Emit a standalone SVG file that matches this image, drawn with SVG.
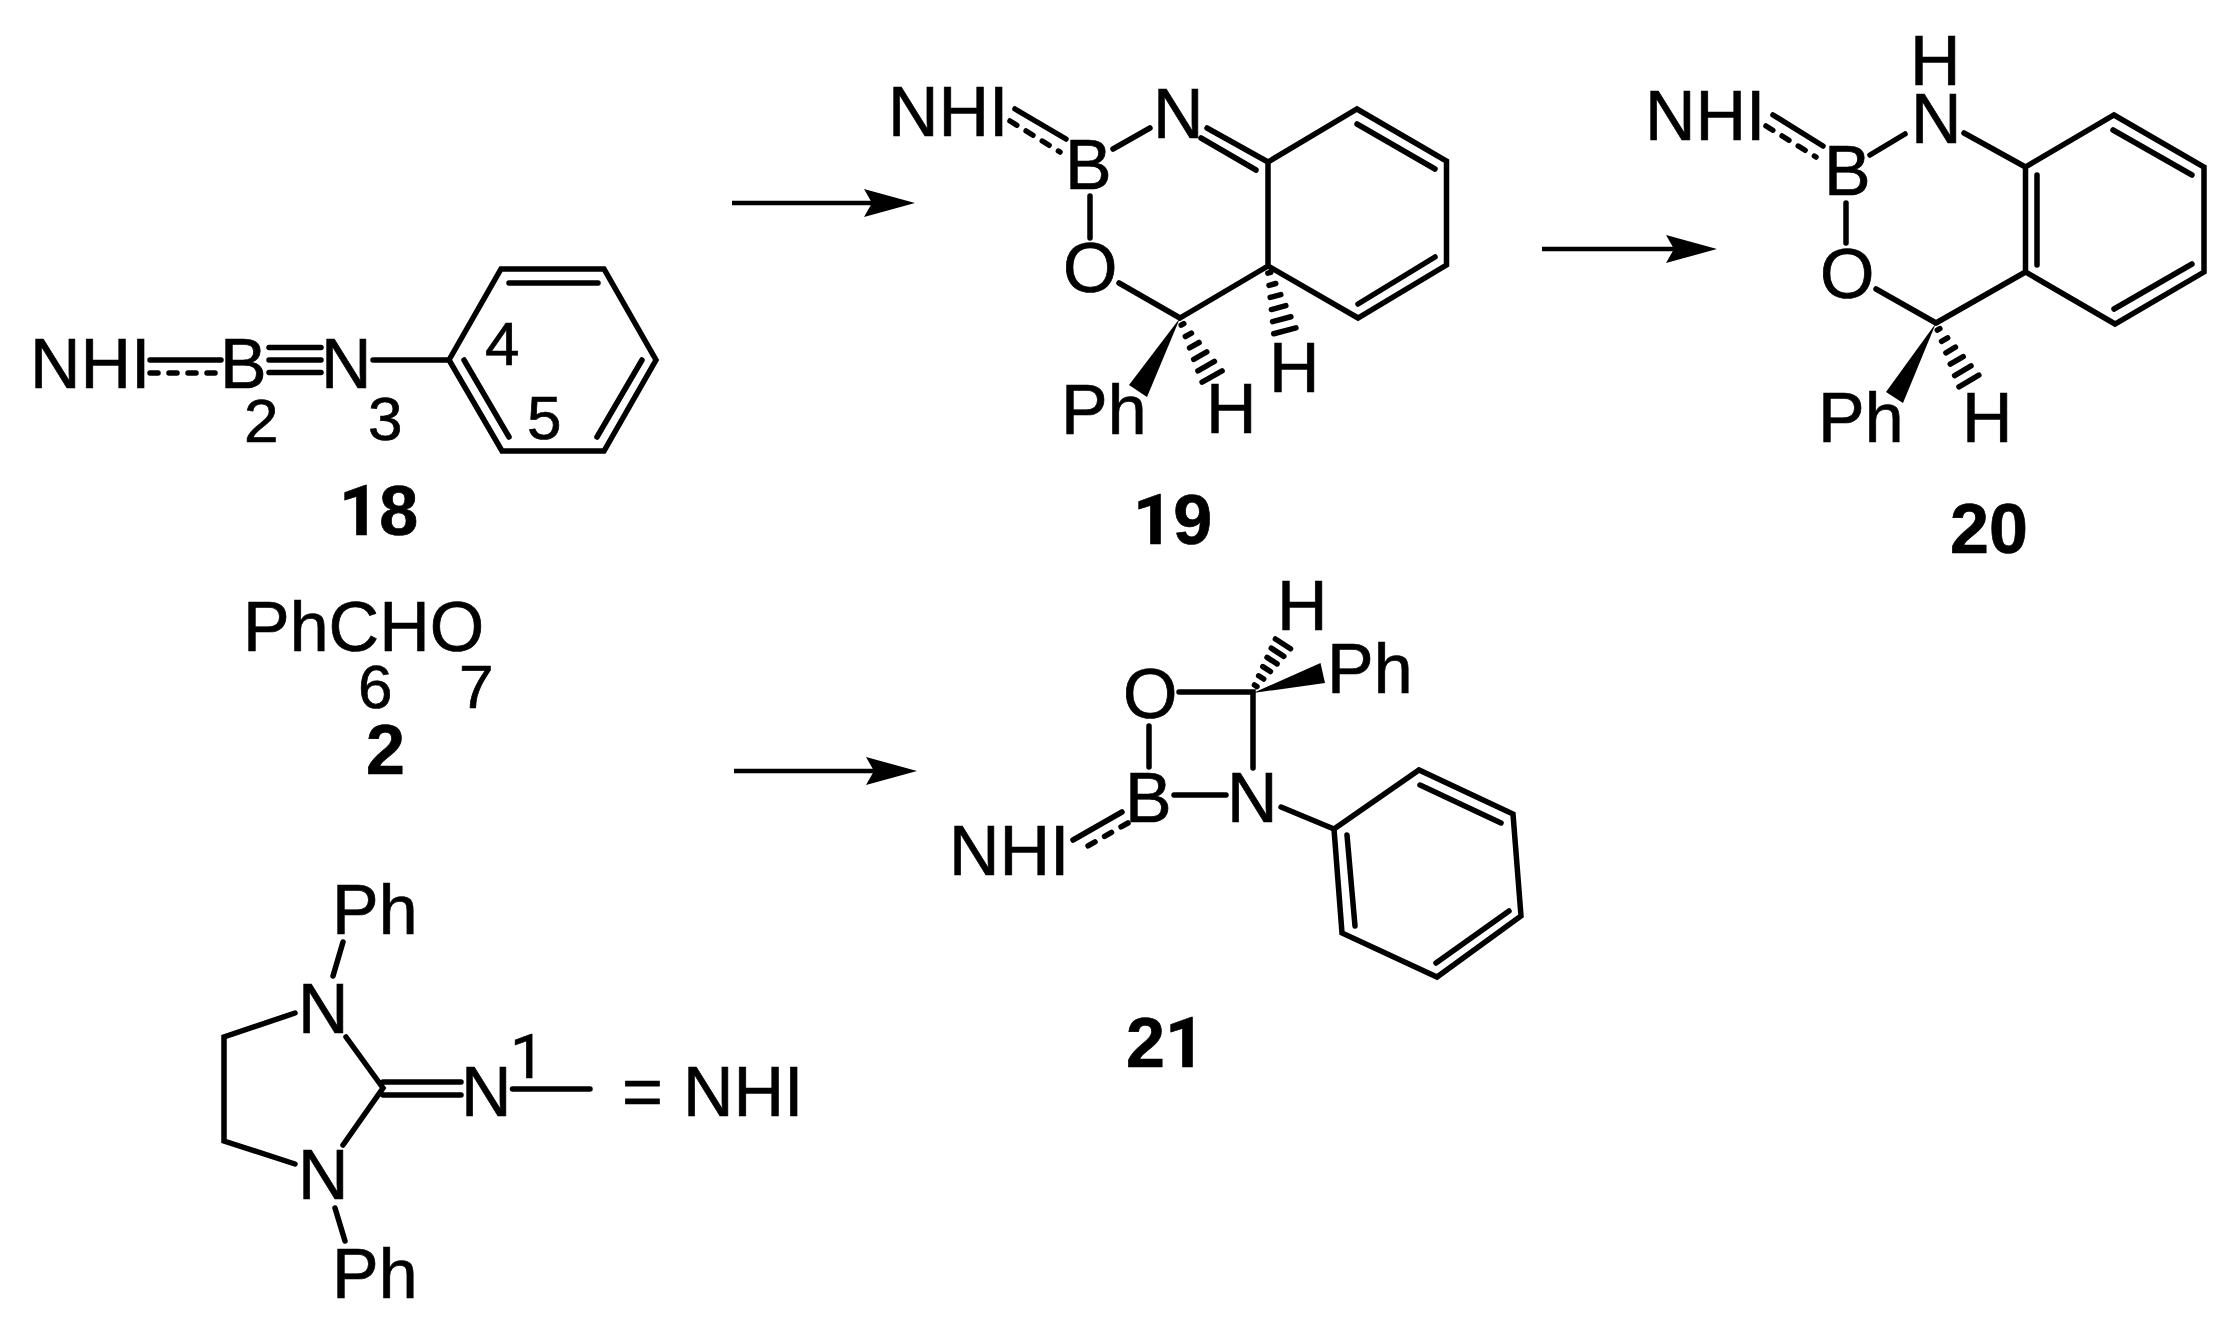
<svg xmlns="http://www.w3.org/2000/svg" xmlns:xlink="http://www.w3.org/1999/xlink" width="2237" height="1335" viewBox="0 0 2237 1335">
<style>
text{font-family:"Liberation Sans",Arial,sans-serif;fill:#000;stroke:#000;stroke-width:.7px}
.a{font-size:70px}
.n{font-size:62px}
.b{font-size:70px;font-weight:700}
.r{font-family:Roboto,"Liberation Sans",sans-serif}
.s{fill:none;stroke:#000;stroke-width:5.500;stroke-linecap:round;stroke-linejoin:miter}
.d{fill:none;stroke:#000;stroke-width:5.500;stroke-linecap:round;stroke-dasharray:8 11}
.f{fill:#000;stroke:none}
.ar{fill:none;stroke:#000;stroke-width:4.500;marker-end:url(#head)}
</style>
<defs>
<marker id="head" markerUnits="userSpaceOnUse" markerWidth="54" markerHeight="32" refX="8" refY="14" orient="auto" overflow="visible"><path d="M0 0L51 14L0 28L8 14Z" fill="#000"/></marker>
<path id="hash" class="s" d="M5-1.500V1.500M17-3.500V3.500M29-5.500V5.500M41-7.500V7.500M53-9.500V9.500M65-11.500V11.500"/>
<path id="hash-short" class="s" d="M5-1.500V1.500M15-3V3M25-4.500V4.500M35-6V6M45-7.500V7.500M55-9V9"/>
</defs>
<rect width="2237" height="1335" fill="#fff"/>
<g id="compound-18">
<text class="a" x="30" y="388">NHI</text>
<text class="a" x="220" y="388">B</text>
<text class="a" x="321" y="388">N</text>
<path class="s" d="M150 360H221M269 347.500H321M269 360H321M269 372.500H321M373 360H449"/>
<path class="d" d="M150 373H221"/>
<path class="s" d="M449 360L501 269H604L656 360L604 451H502ZM509 283H598M464 360L509 437M642 360L597 437"/>
<text class="n" x="244" y="442">2</text>
<text class="n" x="368" y="440">3</text>
<text class="n" x="485" y="365">4</text>
<text class="n" x="527" y="439">5</text>
<text class="b" x="339" y="535"><tspan class="r">1</tspan>8</text>
</g>
<g id="compound-2">
<text class="a" x="243" y="651">PhCHO</text>
<text class="n" x="358" y="708">6</text>
<text class="n" x="459" y="708">7</text>
<text class="b" x="366" y="774">2</text>
</g>
<g id="compound-19">
<text class="a" x="888" y="136">NHI</text>
<text class="a" x="1065" y="189">B</text>
<text class="a" x="1153" y="138">N</text>
<text class="a" x="1063" y="292">O</text>
<text class="a" x="1061" y="434">Ph</text>
<text class="a" x="1206" y="433">H</text>
<text class="a" x="1269" y="392">H</text>
<path class="s" d="M1015 109L1066 139M1113 149L1150 128M1207 128L1268 162M1201 138L1256 170"/>
<path class="d" d="M1010 121L1060 152"/>
<path class="s" d="M1268 162L1357 109L1446.500 161V265L1358 318L1268 266ZM1357 124L1435 169M1435 257L1358 304M1268 266L1180 318M1090 196V238M1119 283L1180 318"/>
<path class="f" d="M1180 318L1129 385L1147 397Z"/>
<use href="#hash" xlink:href="#hash" transform="translate(1180 320) rotate(60.400)"/>
<use href="#hash" xlink:href="#hash" transform="translate(1268 268) rotate(75)"/>
<text class="b" x="1133" y="544"><tspan class="r">1</tspan>9</text>
</g>
<g id="compound-20">
<text class="a" x="1645" y="140">NHI</text>
<text class="a" x="1910" y="85">H</text>
<text class="a" x="1911" y="143">N</text>
<text class="a" x="1824" y="195">B</text>
<text class="a" x="1820" y="298">O</text>
<text class="a" x="1818" y="442">Ph</text>
<text class="a" x="1962" y="442">H</text>
<path class="s" d="M1773 115L1823 146M1870 155L1905 134M1964 133L2025.500 167"/>
<path class="d" d="M1766 126L1816 157"/>
<path class="s" d="M2025.500 167L2114 115L2204 167V272L2115 324L2025.500 272ZM2113 130L2192 175M2192 264L2114 309M2037 175V265M2025.500 272L1936 323M1846 203V243M1876 289L1936 323"/>
<path class="f" d="M1936 323L1886 392L1903 403Z"/>
<use href="#hash" xlink:href="#hash" transform="translate(1936 325) rotate(59.600)"/>
<text class="b" x="1950" y="553">20</text>
</g>
<g id="compound-21">
<text class="a" x="1277" y="630">H</text>
<text class="a" x="1327" y="693">Ph</text>
<text class="a" x="1123" y="718">O</text>
<text class="a" x="1125" y="822">B</text>
<text class="a" x="1227" y="822">N</text>
<text class="a" x="949" y="875">NHI</text>
<path class="s" d="M1179 692H1253V768M1149 726V767M1174 795H1226M1122 812L1073 840M1281 807L1334 829"/>
<path class="d" d="M1128 823L1079 851"/>
<path class="s" d="M1334 829L1419 770L1513 814L1521 916L1437 977L1342 933ZM1420 785L1501 823M1509 911L1436 963M1347 835L1355 926"/>
<path class="f" d="M1253 693L1320.500 663L1325 683Z"/>
<use href="#hash-short" xlink:href="#hash-short" transform="translate(1253 690) rotate(-57)"/>
<text class="b" x="1126" y="1067">2<tspan class="r">1</tspan></text>
</g>
<g id="nhi-legend">
<text class="a" x="332" y="934">Ph</text>
<text class="a" x="298" y="1033">N</text>
<text class="a" x="298" y="1199">N</text>
<text class="a" x="461" y="1116">N</text>
<text class="a" x="332" y="1298">Ph</text>
<text class="n r" x="510" y="1078">1</text>
<text class="a" x="622" y="1116">=</text>
<text class="a" x="683" y="1116">NHI</text>
<path class="s" d="M343 942L333 976M295 1013L224 1037V1141L295 1164M346 1037L383 1088L343 1145M383 1082H461M383 1095H461M512.500 1089H590M335 1208L345 1241"/>
</g>
<g id="connectors">
<path class="ar" d="M732 203H872"/>
<path class="ar" d="M1542 249H1674"/>
<path class="ar" d="M734 771H874"/>
</g>
</svg>
